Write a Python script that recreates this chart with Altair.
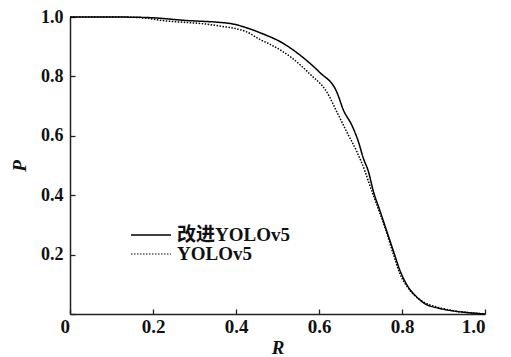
import altair as alt
import pandas as pd

series_names = ["改进YOLOv5", "YOLOv5"]

R_improved = [0.0, 0.10, 0.19, 0.273, 0.386, 0.427, 0.458, 0.514, 0.562, 0.602, 0.643, 0.659,
              0.679, 0.695, 0.707, 0.719, 0.731, 0.747, 0.763, 0.779, 0.795, 0.815, 0.835, 0.867, 1.0]
P_improved = [1.0, 1.0, 0.998, 0.989, 0.978, 0.963, 0.947, 0.911, 0.863, 0.813, 0.747, 0.686,
              0.636, 0.58, 0.524, 0.48, 0.413, 0.347, 0.28, 0.213, 0.147, 0.091, 0.058, 0.027, 0.0]

R_base = [0.0, 0.10, 0.17, 0.217, 0.354, 0.427, 0.458, 0.482, 0.534, 0.578, 0.619, 0.647, 0.667,
          0.691, 0.711, 0.719, 0.739, 0.759, 0.779, 0.795, 0.819, 0.851, 0.88, 1.0]
P_base = [1.0, 1.0, 0.998, 0.989, 0.971, 0.949, 0.924, 0.908, 0.863, 0.808, 0.747, 0.669, 0.613,
          0.547, 0.48, 0.447, 0.369, 0.291, 0.202, 0.136, 0.08, 0.041, 0.025, 0.0]

ticks = [0, 0.2, 0.4, 0.6, 0.8, 1.0]

rows = []
for i, (r, p) in enumerate(zip(R_improved, P_improved)):
    rows.append({"R": r, "P": p, "series": series_names[0], "idx": i})
for i, (r, p) in enumerate(zip(R_base, P_base)):
    rows.append({"R": r, "P": p, "series": series_names[1], "idx": i})
df = pd.DataFrame(rows)

FONT = "Liberation Serif"
label_expr = "datum.value == 0 ? '0' : format(datum.value, '.1f')"

x_main = alt.X("R:Q", scale=alt.Scale(domain=[0, 1], nice=False, zero=True),
               axis=alt.Axis(values=ticks, title="R", orient="bottom", ticks=False,
                             labelExpr=label_expr, labelPadding=3, titlePadding=2,
                             labelOffset={"condition": {"test": "datum.value == 0", "value": -10},
                                          "value": 0},
                             domainColor="#222", domainWidth=1.5, grid=False,
                             labelFont=FONT, labelFontWeight="bold", labelFontSize=19,
                             labelColor="#111", titleFont=FONT, titleFontStyle="italic",
                             titleFontWeight="bold", titleFontSize=19, titleColor="#111"))
y_main = alt.Y("P:Q", scale=alt.Scale(domain=[0, 1], nice=False, zero=True),
               axis=alt.Axis(values=ticks[1:], title="P", orient="left", ticks=False,
                             labelExpr=label_expr, labelPadding=7, titlePadding=11,
                             domainColor="#222", domainWidth=1.5, grid=False,
                             labelFont=FONT, labelFontWeight="bold", labelFontSize=18,
                             labelColor="#111", titleFont=FONT, titleFontStyle="italic",
                             titleFontWeight="bold", titleFontSize=19, titleColor="#111"))

lines = alt.Chart(df).mark_line(color="black", strokeWidth=1.5, interpolate="monotone").encode(
    x=x_main,
    y=y_main,
    order="idx:Q",
    strokeDash=alt.StrokeDash(
        "series:N",
        scale=alt.Scale(domain=series_names, range=[[1, 0], [1.5, 1.5]]),
        legend=alt.Legend(title=None, orient="none", legendX=60, legendY=209,
                          symbolType="stroke", symbolSize=1600, symbolStrokeWidth=1.5,
                          symbolStrokeColor="black", clipHeight=18,
                          labelFont="Liberation Serif, Noto Sans CJK SC",
                          labelFontWeight="bold", labelFontSize=19, labelColor="#111",
                          labelOffset=5, rowPadding=0, padding=0),
    ),
    strokeWidth=alt.StrokeWidth("series:N",
                                scale=alt.Scale(domain=series_names, range=[1.6, 1.2]),
                                legend=None),
)

tick_df = pd.DataFrame({"R": [0.0], "P": [0.0]})
tick_layer = alt.Chart(tick_df).mark_point(opacity=0).encode(
    x=alt.X("R:Q", scale=alt.Scale(domain=[0, 1], nice=False),
            axis=alt.Axis(values=ticks, orient="bottom", offset=-5, domain=False, labels=False,
                          ticks=True, tickSize=5, tickColor="#222", tickWidth=1.3, title=None,
                          grid=False)),
    y=alt.Y("P:Q", scale=alt.Scale(domain=[0, 1], nice=False),
            axis=alt.Axis(values=ticks, orient="left", offset=-5, domain=False, labels=False,
                          ticks=True, tickSize=5, tickColor="#222", tickWidth=1.3, title=None,
                          grid=False)),
)

chart = alt.layer(lines, tick_layer).resolve_axis(x="independent", y="independent").properties(
    width=415, height=297,
    autosize=alt.AutoSizeParams(type="none"),
    padding={"left": 62, "top": 9, "right": 18, "bottom": 43},
).configure_view(stroke=None)

chart.save("out.html", embed_options={"renderer": "svg", "actions": False})
